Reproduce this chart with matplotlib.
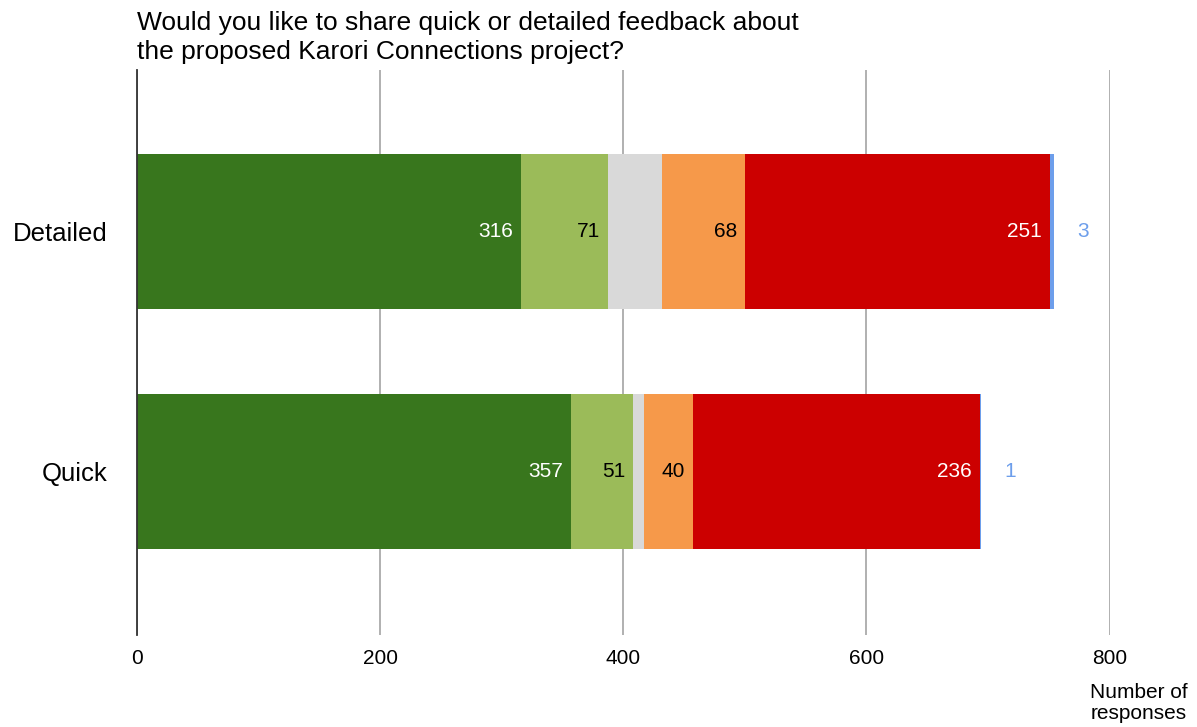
import matplotlib.pyplot as plt
import numpy as np

plt.rcParams['font.family'] = ['Liberation Sans', 'DejaVu Sans']

categories = ['Detailed', 'Quick']
series_names = ['Strongly support', 'Support', 'Neutral', 'Oppose', 'Strongly oppose', 'Unsure']
strongly_support = [316, 357]
support = [71, 51]
neutral = [45, 9]
oppose = [68, 40]
strongly_oppose = [251, 236]
unsure = [3, 1]

colors = ['#38761d', '#9bbb59', '#d9d9d9', '#f6994a', '#cc0000', '#6d9eeb']
label_colors = ['white', 'black', None, 'black', 'white', '#6d9eeb']
ticks = [0, 200, 400, 600, 800]

series = [strongly_support, support, neutral, oppose, strongly_oppose, unsure]

fig = plt.figure(figsize=(11.97, 7.27), dpi=100)
ax = fig.add_axes([0.1145, 0.1266, 0.8125, 0.7771])

y = np.arange(len(categories))
left = np.zeros(len(categories))
for vals, name, col, lcol in zip(series, series_names, colors, label_colors):
    vals = np.array(vals, dtype=float)
    bars = ax.barh(y, vals, left=left, height=0.646, color=col, label=name, zorder=2)
    if lcol is not None:
        if name == 'Unsure':
            ax.bar_label(bars, labels=[str(int(v)) for v in vals], padding=17,
                         color=lcol, fontsize=15)
        else:
            for v, l, yy in zip(vals, left, y):
                ax.text(l + v - 6.5, yy, str(int(v)), ha='right', va='center',
                        color=lcol, fontsize=15, zorder=3)
    left += vals

ax.set_xlim(0, 800)
ax.set_ylim(1.68, -0.675)
ax.set_yticks(y)
ax.set_yticklabels(categories, fontsize=18.5)
ax.set_xticks(ticks)
ax.set_xticklabels([str(t) for t in ticks], fontsize=15)
ax.tick_params(axis='both', length=0, pad=10)
ax.tick_params(axis='y', pad=21)
ax.grid(axis='x', color='#aaaaaa', linewidth=1.3, zorder=0)
for s in ['top', 'right', 'bottom']:
    ax.spines[s].set_visible(False)
ax.spines['left'].set_color('#333333')
ax.spines['left'].set_linewidth(1.3)
ax.spines['left'].set_zorder(3)

fig.text(0.1145, 0.912, 'Would you like to share quick or detailed feedback about\n'
         'the proposed Karori Connections project?', fontsize=19, va='bottom',
         ha='left', linespacing=1.25)
fig.text(0.911, 0.006, 'Number of\nresponses', fontsize=15, ha='left', va='bottom',
         linespacing=1.12)

fig.savefig('out.png', dpi=100)
